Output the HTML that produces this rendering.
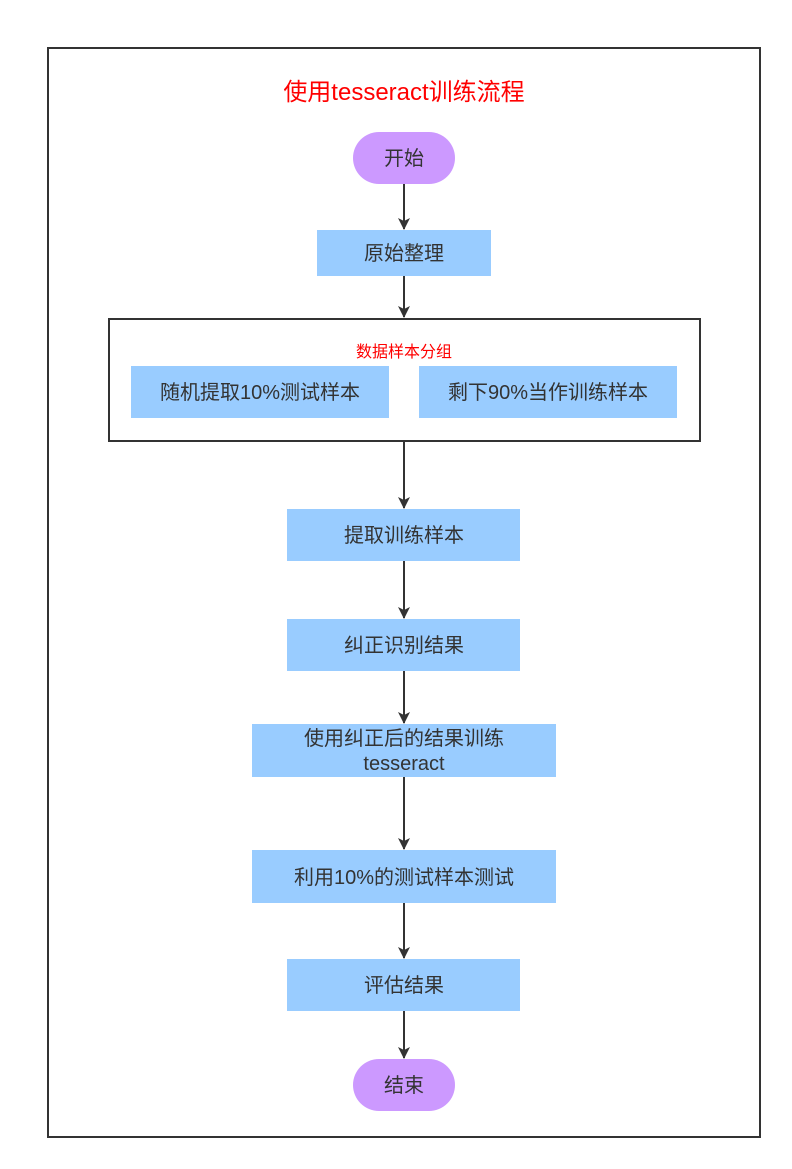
<!DOCTYPE html>
<html><head><meta charset="utf-8"><style>
html,body{margin:0;padding:0;background:#fff;width:792px;height:1169px;overflow:hidden}
svg text{font-family:"Liberation Sans","Noto Sans CJK SC",sans-serif}
</style></head><body>
<svg width="792" height="1169" viewBox="0 0 792 1169" xmlns="http://www.w3.org/2000/svg">
<defs><marker id="a" markerWidth="12" markerHeight="12" refX="11" refY="6" orient="auto" markerUnits="userSpaceOnUse"><path d="M0,0 L12,6 L0,12 L3,6 z" fill="#333"/></marker></defs>
<rect x="48" y="48" width="712" height="1089" fill="#fff" stroke="#333" stroke-width="2"/>
<text x="404" y="100" font-size="24" fill="#ff0000" text-anchor="middle">使用tesseract训练流程</text>
<g stroke="#333" stroke-width="2" marker-end="url(#a)">
<line x1="404" y1="184" x2="404" y2="229"/>
<line x1="404" y1="276" x2="404" y2="317"/>
<line x1="404" y1="442" x2="404" y2="508"/>
<line x1="404" y1="561" x2="404" y2="618"/>
<line x1="404" y1="671" x2="404" y2="723"/>
<line x1="404" y1="777" x2="404" y2="849"/>
<line x1="404" y1="903" x2="404" y2="958"/>
<line x1="404" y1="1011" x2="404" y2="1058"/>
</g>
<g fill="#99ccff">
<rect x="317" y="230" width="174" height="46"/>
<rect x="131" y="366" width="258" height="52"/>
<rect x="419" y="366" width="258" height="52"/>
<rect x="287" y="509" width="233" height="52"/>
<rect x="287" y="619" width="233" height="52"/>
<rect x="252" y="724" width="304" height="53"/>
<rect x="252" y="850" width="304" height="53"/>
<rect x="287" y="959" width="233" height="52"/>
</g>
<rect x="353" y="132" width="102" height="52" rx="26" fill="#cc99ff"/>
<rect x="353" y="1059" width="102" height="52" rx="26" fill="#cc99ff"/>
<rect x="109" y="319" width="591" height="122" fill="none" stroke="#333" stroke-width="2"/>
<g font-size="20" fill="#333" text-anchor="middle">
<text x="404" y="165">开始</text>
<text x="404" y="260">原始整理</text>
<text x="260" y="399">随机提取10%测试样本</text>
<text x="548" y="399">剩下90%当作训练样本</text>
<text x="404" y="542">提取训练样本</text>
<text x="404" y="652">纠正识别结果</text>
<text x="404" y="745">使用纠正后的结果训练</text>
<text x="404" y="770">tesseract</text>
<text x="404" y="884">利用10%的测试样本测试</text>
<text x="404" y="992">评估结果</text>
<text x="404" y="1092">结束</text>
</g>
<text x="404" y="357" font-size="16" fill="#ff0000" text-anchor="middle">数据样本分组</text>
</svg>
</body></html>
